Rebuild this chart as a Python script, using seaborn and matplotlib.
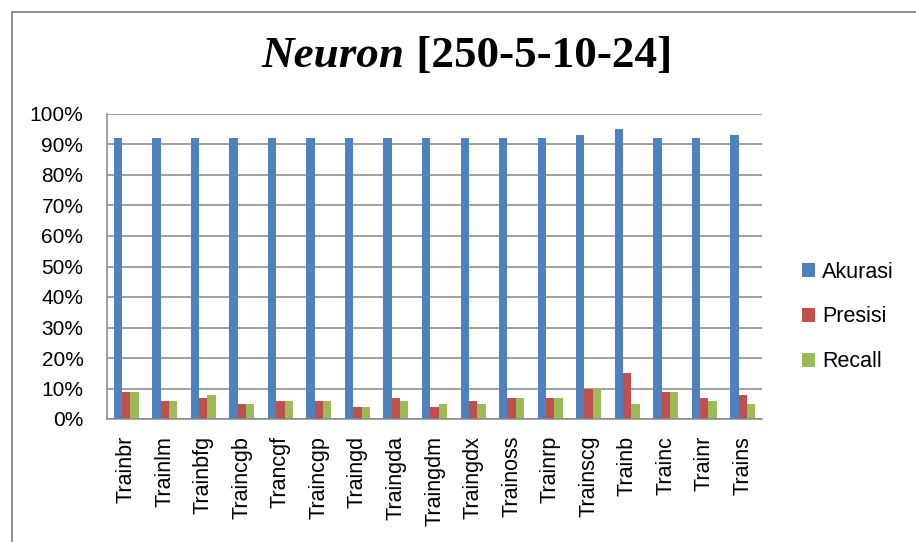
import matplotlib
matplotlib.use("Agg")
import matplotlib.pyplot as plt
import seaborn as sns
import pandas as pd
from matplotlib.lines import Line2D
from matplotlib.patches import Patch
from matplotlib.ticker import PercentFormatter

categories = ["Trainbr", "Trainlm", "Trainbfg", "Traincgb", "Trancgf", "Traincgp",
              "Traingd", "Traingda", "Traingdm", "Traingdx", "Trainoss", "Trainrp",
              "Trainscg", "Trainb", "Trainc", "Trainr", "Trains"]
akurasi = [92, 92, 92, 92, 92, 92, 92, 92, 92, 92, 92, 92, 93, 95, 92, 92, 93]
presisi = [9, 6, 7, 5, 6, 6, 4, 7, 4, 6, 7, 7, 10, 15, 9, 7, 8]
recall = [9, 6, 8, 5, 6, 6, 4, 6, 5, 5, 7, 7, 10, 5, 9, 6, 5]
series = ["Akurasi", "Presisi", "Recall"]
colors = ["#4F81BD", "#C0504D", "#9BBB59"]
yticks = [0, 10, 20, 30, 40, 50, 60, 70, 80, 90, 100]

rows = []
for name, vals in zip(series, [akurasi, presisi, recall]):
    for c, v in zip(categories, vals):
        rows.append({"cat": c, "series": name, "value": v})
df = pd.DataFrame(rows)

sns.set_theme(style="white")
plt.rcParams["font.family"] = ["Liberation Sans", "DejaVu Sans"]
plt.rcParams["text.color"] = "black"

fig = plt.figure(figsize=(9.16, 5.42), dpi=100)
ax = fig.add_axes([107/916, 1 - 419/542, (762 - 107)/916, (419 - 114)/542])

sns.barplot(data=df, x="cat", y="value", hue="series", order=categories,
            hue_order=series, palette=colors, saturation=1, width=0.65,
            ax=ax, legend=False, linewidth=0)

ax.set_xlim(-0.5, len(categories) - 0.5)
ax.set_ylim(0, 100)
ax.set_yticks(yticks)
ax.yaxis.set_major_formatter(PercentFormatter(decimals=0))
ax.grid(axis="y", color="#868686", linewidth=1.1)
ax.set_axisbelow(True)
ax.set_xlabel("")
ax.set_ylabel("")
for s in ["top", "right"]:
    ax.spines[s].set_visible(False)
for s in ["left", "bottom"]:
    ax.spines[s].set_color("#868686")
    ax.spines[s].set_linewidth(1.1)
ax.tick_params(axis="y", length=0, pad=17, labelsize=15, labelcolor="black")
ax.tick_params(axis="x", length=0, pad=12, labelsize=15.5, labelcolor="black")
ax.set_xticks(range(len(categories)))
ax.set_xticklabels(categories, rotation=90, va="top", ha="center")

handles = [Patch(facecolor=c, edgecolor="none") for c in colors]
fig.legend(handles, series, loc="center left", bbox_to_anchor=(802/916, 1 - 317/542),
           frameon=False, fontsize=15.5, handlelength=0.62, handleheight=0.62,
           handletextpad=0.3, labelspacing=1.1, borderaxespad=0, borderpad=0,
           labelcolor="black")

# outer chart border (top & left)
fig.add_artist(Line2D([12/916, 1], [1 - 12/542, 1 - 12/542], transform=fig.transFigure,
                      color="#868686", linewidth=1.3))
fig.add_artist(Line2D([12/916, 12/916], [0, 1 - 12/542], transform=fig.transFigure,
                      color="#868686", linewidth=1.3))

# title: italic "Neuron" + bold "[250-5-10-24]"
title_font = ["Liberation Serif", "DejaVu Serif"]
t1 = fig.text(0, 1 - 67/542, "Neuron", fontsize=32.5, fontweight="bold", fontstyle="italic",
              family=title_font, ha="left", va="baseline", color="black")
t2 = fig.text(0, 1 - 67/542, " [250-5-10-24]", fontsize=32.5, fontweight="bold",
              family=title_font, ha="left", va="baseline", color="black")
fig.canvas.draw()
r = fig.canvas.get_renderer()
w1 = t1.get_window_extent(r).width
w2 = t2.get_window_extent(r).width
total = w1 + w2
cx = 467
x0 = cx - total / 2
t1.set_x(x0 / 916)
t2.set_x((x0 + w1) / 916)

fig.savefig("out.png", dpi=100, facecolor="white")
